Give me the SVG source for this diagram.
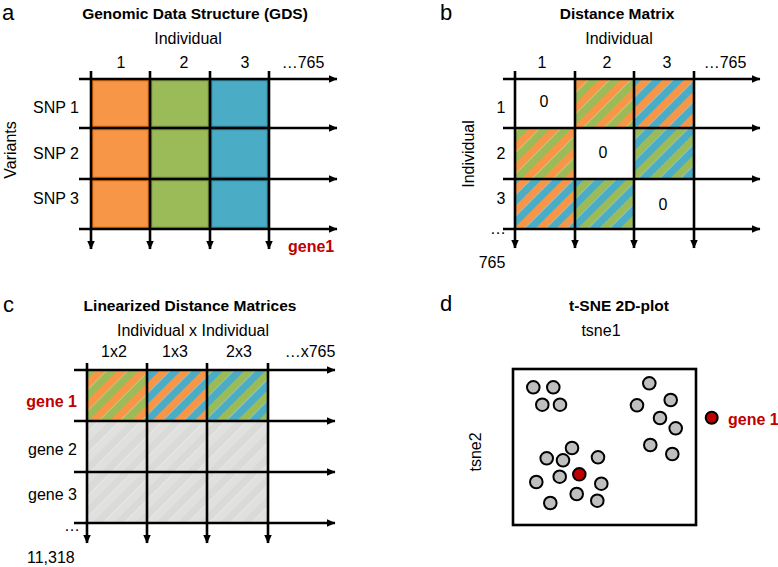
<svg xmlns="http://www.w3.org/2000/svg" width="778" height="567" viewBox="0 0 778 567">
<style>
text{font-family:"Liberation Sans",Arial,sans-serif;fill:#000}
.t{font-size:15.5px;font-weight:bold;text-anchor:middle}
.p{font-size:22px}
.l{font-size:16px}
.m{text-anchor:middle}
.e{text-anchor:end}
.red{fill:#C00000;font-weight:bold}
.ax{stroke:#000;stroke-width:2.6;fill:none;marker-end:url(#ah)}
.dot{fill:#BFBFBF;stroke:#000;stroke-width:2}
.rdot{fill:#C00000;stroke:#000;stroke-width:2}
</style>
<defs>
<marker id="ah" markerUnits="userSpaceOnUse" markerWidth="9" markerHeight="8" refX="8.5" refY="4" orient="auto">
<path d="M0,0 L9,4 L0,8 z" fill="#000"/>
</marker>
<pattern id="og" width="15" height="15" patternUnits="userSpaceOnUse" patternTransform="rotate(45)">
<rect width="7.5" height="15" fill="#F79646"/><rect x="7.5" width="7.5" height="15" fill="#9BBB59"/>
</pattern>
<pattern id="ob" width="15" height="15" patternUnits="userSpaceOnUse" patternTransform="rotate(45)">
<rect width="7.5" height="15" fill="#F79646"/><rect x="7.5" width="7.5" height="15" fill="#4BACC6"/>
</pattern>
<pattern id="gb" width="15" height="15" patternUnits="userSpaceOnUse" patternTransform="rotate(45)">
<rect width="7.5" height="15" fill="#9BBB59"/><rect x="7.5" width="7.5" height="15" fill="#4BACC6"/>
</pattern>
<pattern id="gr" width="15" height="15" patternUnits="userSpaceOnUse" patternTransform="rotate(45)">
<rect width="7.5" height="15" fill="#DADAD8"/><rect x="7.5" width="7.5" height="15" fill="#E0E0DE"/>
</pattern>
</defs>
<rect width="778" height="567" fill="#fff"/>

<!-- Panel a -->
<g id="panel-a">
<text x="2" y="20" class="p">a</text>
<text x="195" y="19" class="t">Genomic Data Structure (GDS)</text>
<text x="188" y="44" class="l m">Individual</text>
<text x="121" y="68" class="l m">1</text>
<text x="184" y="68" class="l m">2</text>
<text x="245" y="68" class="l m">3</text>
<text x="303" y="68" class="l m">…765</text>
<text x="79" y="113" class="l e">SNP 1</text>
<text x="79" y="159" class="l e">SNP 2</text>
<text x="79" y="204" class="l e">SNP 3</text>
<text transform="translate(16,150) rotate(-90)" class="l m">Variants</text>
<text x="288" y="252" class="l red">gene1</text>
<g id="cells-a" stroke-width="1.6">
<rect x="92.5" y="80.5" width="56" height="46" fill="#F79646" stroke="#E46C0A"/>
<rect x="92.5" y="129.5" width="56" height="48" fill="#F79646" stroke="#E46C0A"/>
<rect x="92.5" y="180.5" width="56" height="47" fill="#F79646" stroke="#E46C0A"/>
<rect x="151.5" y="80.5" width="57" height="46" fill="#9BBB59" stroke="#77933C"/>
<rect x="151.5" y="129.5" width="57" height="48" fill="#9BBB59" stroke="#77933C"/>
<rect x="151.5" y="180.5" width="57" height="47" fill="#9BBB59" stroke="#77933C"/>
<rect x="211.5" y="80.5" width="56" height="46" fill="#4BACC6" stroke="#31859C"/>
<rect x="211.5" y="129.5" width="56" height="48" fill="#4BACC6" stroke="#31859C"/>
<rect x="211.5" y="180.5" width="56" height="47" fill="#4BACC6" stroke="#31859C"/>
</g>
<g id="axes-a">
<line x1="79" y1="79" x2="337" y2="79" class="ax"/>
<line x1="79" y1="128" x2="337" y2="128" class="ax"/>
<line x1="79" y1="179" x2="337" y2="179" class="ax"/>
<line x1="79" y1="229" x2="337" y2="229" class="ax"/>
<line x1="91" y1="71" x2="91" y2="249" class="ax"/>
<line x1="150" y1="71" x2="150" y2="249" class="ax"/>
<line x1="210" y1="71" x2="210" y2="249" class="ax"/>
<line x1="269" y1="71" x2="269" y2="249" class="ax"/>
</g>
</g>

<!-- Panel b -->
<g id="panel-b">
<text x="440" y="20" class="p">b</text>
<text x="617" y="19" class="t">Distance Matrix</text>
<text x="619" y="44" class="l m">Individual</text>
<text x="542" y="68" class="l m">1</text>
<text x="607" y="68" class="l m">2</text>
<text x="667" y="68" class="l m">3</text>
<text x="725" y="68" class="l m">…765</text>
<text x="501" y="113" class="l m">1</text>
<text x="501" y="159" class="l m">2</text>
<text x="501" y="204" class="l m">3</text>
<text x="498" y="234" class="l m">…</text>
<text x="492" y="268" class="l m">765</text>
<text transform="translate(474,154) rotate(-90)" class="l m">Individual</text>
<g id="cells-b">
<rect x="575" y="79" width="59" height="49" fill="url(#og)"/>
<rect x="634" y="79" width="60" height="49" fill="url(#ob)"/>
<rect x="515" y="128" width="60" height="51" fill="url(#og)"/>
<rect x="634" y="128" width="60" height="51" fill="url(#gb)"/>
<rect x="515" y="179" width="60" height="50" fill="url(#ob)"/>
<rect x="575" y="179" width="59" height="50" fill="url(#gb)"/>
</g>
<text x="544" y="107" class="l m">0</text>
<text x="603" y="158" class="l m">0</text>
<text x="663" y="210" class="l m">0</text>
<g id="axes-b">
<line x1="503" y1="79" x2="760" y2="79" class="ax"/>
<line x1="503" y1="128" x2="760" y2="128" class="ax"/>
<line x1="503" y1="179" x2="760" y2="179" class="ax"/>
<line x1="503" y1="229" x2="760" y2="229" class="ax"/>
<line x1="515" y1="71" x2="515" y2="248" class="ax"/>
<line x1="575" y1="71" x2="575" y2="248" class="ax"/>
<line x1="634" y1="71" x2="634" y2="248" class="ax"/>
<line x1="694" y1="71" x2="694" y2="248" class="ax"/>
</g>
</g>

<!-- Panel c -->
<g id="panel-c">
<text x="3" y="312" class="p">c</text>
<text x="190" y="311" class="t">Linearized Distance Matrices</text>
<text x="193" y="336" class="l m">Individual x Individual</text>
<text x="114" y="357" class="l m">1x2</text>
<text x="175" y="357" class="l m">1x3</text>
<text x="239" y="357" class="l m">2x3</text>
<text x="310" y="357" class="l m">…x765</text>
<text x="77" y="407" class="l e red">gene 1</text>
<text x="77" y="455" class="l e">gene 2</text>
<text x="77" y="500" class="l e">gene 3</text>
<text x="72" y="531" class="l m">…</text>
<text x="27" y="563" class="l">11,318</text>
<g id="cells-c">
<rect x="87" y="370" width="60" height="51" fill="url(#og)"/>
<rect x="147" y="370" width="60" height="51" fill="url(#ob)"/>
<rect x="207" y="370" width="61" height="51" fill="url(#gb)"/>
<rect x="87" y="421" width="181" height="102" fill="url(#gr)"/>
</g>
<g id="axes-c">
<line x1="74" y1="370" x2="335" y2="370" class="ax"/>
<line x1="74" y1="421" x2="335" y2="421" class="ax"/>
<line x1="74" y1="472" x2="335" y2="472" class="ax"/>
<line x1="74" y1="523" x2="335" y2="523" class="ax"/>
<line x1="87" y1="363" x2="87" y2="543" class="ax"/>
<line x1="147" y1="363" x2="147" y2="543" class="ax"/>
<line x1="207" y1="363" x2="207" y2="543" class="ax"/>
<line x1="268" y1="363" x2="268" y2="543" class="ax"/>
</g>
</g>

<!-- Panel d -->
<g id="panel-d">
<text x="440" y="311" class="p">d</text>
<text x="619" y="311" class="t">t-SNE 2D-plot</text>
<text x="601" y="336" class="l m">tsne1</text>
<text transform="translate(481,452) rotate(-90)" class="l m">tsne2</text>
<rect id="plot-box" x="513" y="369" width="183" height="156" fill="#fff" stroke="#000" stroke-width="2.6"/>
<g id="points">
<circle cx="533.3" cy="387.3" r="6.3" class="dot"/>
<circle cx="553.3" cy="387.3" r="6.3" class="dot"/>
<circle cx="542.3" cy="404.7" r="6.3" class="dot"/>
<circle cx="560" cy="404.7" r="6.3" class="dot"/>
<circle cx="649.3" cy="383.3" r="6.3" class="dot"/>
<circle cx="670.7" cy="400" r="6.3" class="dot"/>
<circle cx="637" cy="405.3" r="6.3" class="dot"/>
<circle cx="660" cy="418" r="6.3" class="dot"/>
<circle cx="675.7" cy="428.3" r="6.3" class="dot"/>
<circle cx="650.3" cy="445" r="6.3" class="dot"/>
<circle cx="672.3" cy="454" r="6.3" class="dot"/>
<circle cx="572" cy="448" r="6.3" class="dot"/>
<circle cx="546.7" cy="458.3" r="6.3" class="dot"/>
<circle cx="563" cy="460.3" r="6.3" class="dot"/>
<circle cx="598" cy="457.3" r="6.3" class="dot"/>
<circle cx="559.7" cy="476.7" r="6.3" class="dot"/>
<circle cx="579.3" cy="474.3" r="6.3" class="rdot"/>
<circle cx="536.3" cy="482" r="6.3" class="dot"/>
<circle cx="601.3" cy="483.7" r="6.3" class="dot"/>
<circle cx="576.7" cy="494" r="6.3" class="dot"/>
<circle cx="550.3" cy="503" r="6.3" class="dot"/>
<circle cx="597.3" cy="500.7" r="6.3" class="dot"/>
</g>
<circle cx="711.7" cy="417.7" r="6" class="rdot"/>
<text x="728" y="425" class="l red">gene 1</text>
</g>
</svg>
